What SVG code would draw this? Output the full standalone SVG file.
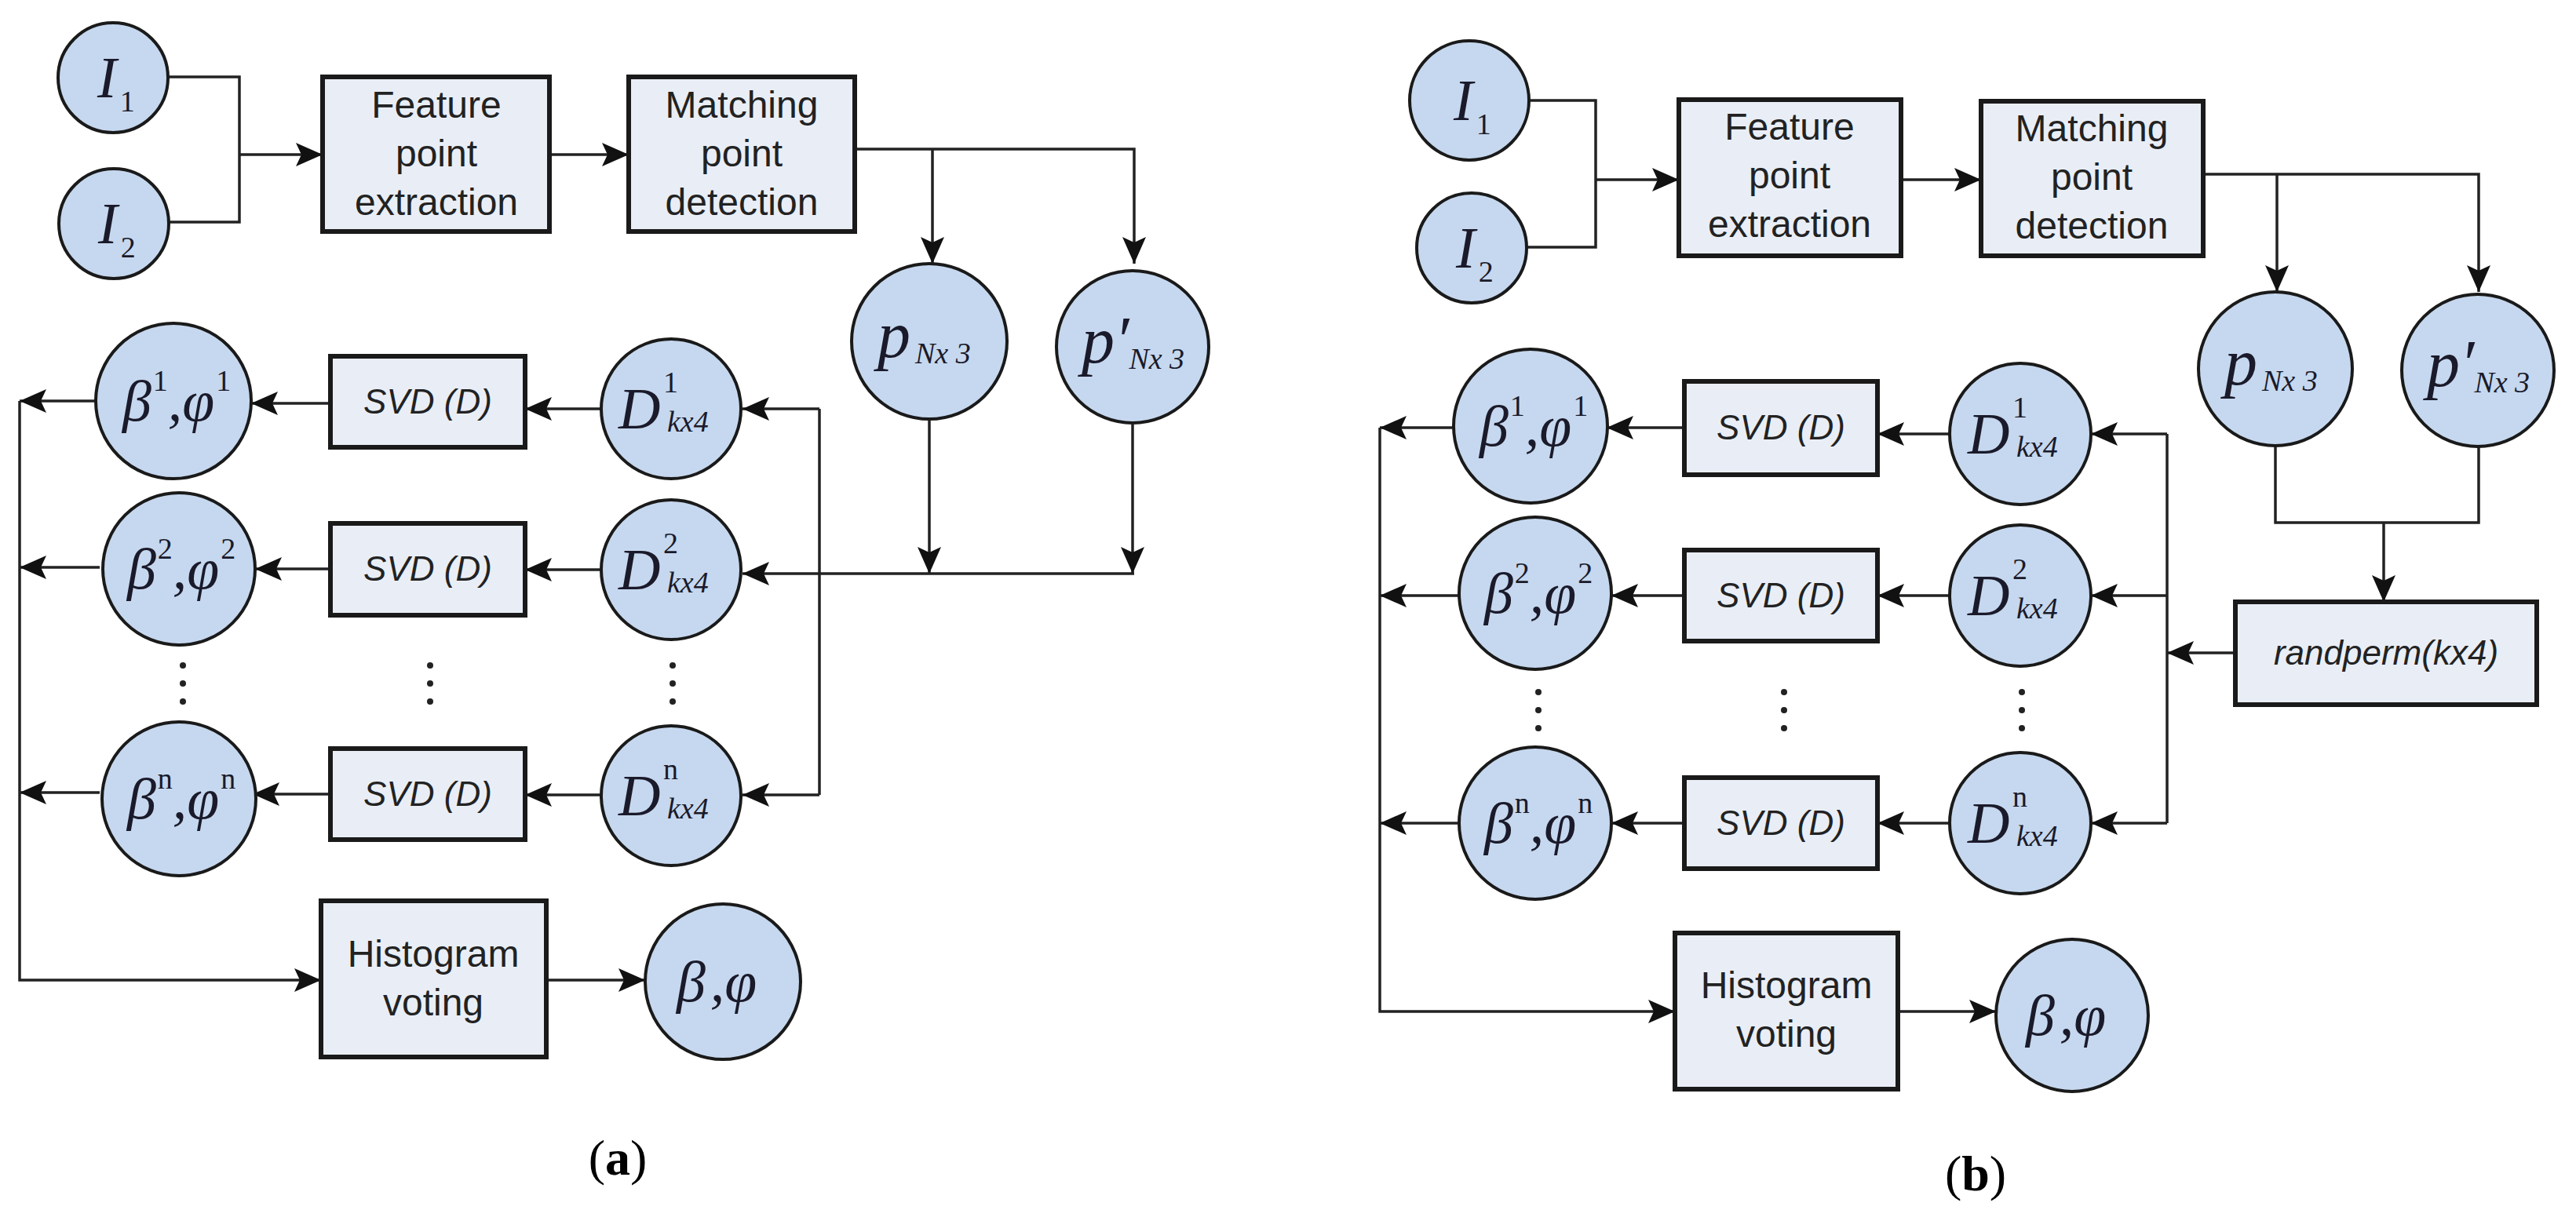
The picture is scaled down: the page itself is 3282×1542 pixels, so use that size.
<svg xmlns="http://www.w3.org/2000/svg" width="3282" height="1542" viewBox="0 0 3282 1542">
<style>
.c{fill:#c6d8ef;stroke:#1a1a1a;stroke-width:4}
.b{fill:#e9eef6;stroke:#1a1a1a;stroke-width:6}
.l{fill:none;stroke:#222;stroke-width:3.5}
.la{fill:none;stroke:#222;stroke-width:3.5;marker-end:url(#ah)}
.t{font-family:"Liberation Sans",Arial,sans-serif;font-size:48px;fill:#222;text-anchor:middle}
.ti{font-family:"Liberation Sans",Arial,sans-serif;font-size:44px;font-style:italic;fill:#222;text-anchor:middle}
.m{font-family:"Liberation Serif","Times New Roman",serif;font-style:italic;font-size:74px;fill:#1a1a2a}
.s{font-family:"Liberation Serif","Times New Roman",serif;font-style:normal;font-size:38px;fill:#1a1a2a}
.si{font-family:"Liberation Serif","Times New Roman",serif;font-style:italic;font-size:38px;fill:#1a1a2a}
.cap{font-family:"Liberation Serif","Times New Roman",serif;font-size:64px;fill:#000;text-anchor:middle}
.dot{fill:#222}
</style>
<defs>
<marker id="ah" markerUnits="userSpaceOnUse" markerWidth="36" markerHeight="30" refX="34" refY="15" orient="auto"><path d="M0,0 L34,15 L0,30 L7,15 z" fill="#111"/></marker>
</defs>

<g id="connectors">
<path class="l" d="M214,98 H305 V283 H214"/>
<path class="la" d="M305,197 H411"/>
<path class="la" d="M700,197 H801"/>
<path class="la" d="M1089,190 H1445 V336"/>
<path class="la" d="M1188,190 V336"/>
<path class="la" d="M1184,536 V731"/>
<path class="la" d="M1443,541 V731"/>
<path class="la" d="M1445,731 H946"/>
<path class="l" d="M1044,521 V1013"/>
<path class="la" d="M1044,521 H946"/>
<path class="la" d="M1044,1013 H946"/>
<path class="la" d="M766,521 H669"/>
<path class="la" d="M766,726 H669"/>
<path class="la" d="M766,1013 H669"/>
<path class="la" d="M421,514 H320"/>
<path class="la" d="M421,725 H325"/>
<path class="la" d="M421,1012 H322"/>
<path class="la" d="M122,511 H25"/>
<path class="la" d="M127,723 H25"/>
<path class="la" d="M127,1010 H25"/>
<path class="la" d="M25,511 V1249 H409"/>
<path class="la" d="M696,1249 H822"/>
<path class="l" d="M1947,128 H2033 V315 H1944"/>
<path class="la" d="M2033,229 H2139"/>
<path class="la" d="M2422,229 H2524"/>
<path class="la" d="M2807,222 H3158 V372"/>
<path class="la" d="M2901,222 V372"/>
<path class="l" d="M2899,568 V666 H3158 V570"/>
<path class="la" d="M3037,666 V767"/>
<path class="la" d="M2848,832 H2761"/>
<path class="l" d="M2761,553 V1049"/>
<path class="la" d="M2761,553 H2664"/>
<path class="la" d="M2761,759 H2664"/>
<path class="la" d="M2761,1049 H2664"/>
<path class="la" d="M2484,553 H2392"/>
<path class="la" d="M2484,759 H2392"/>
<path class="la" d="M2484,1049 H2392"/>
<path class="la" d="M2146,545 H2047"/>
<path class="la" d="M2146,759 H2053"/>
<path class="la" d="M2146,1049 H2053"/>
<path class="la" d="M1853,545 H1758"/>
<path class="la" d="M1859,759 H1758"/>
<path class="la" d="M1859,1049 H1758"/>
<path class="la" d="M1758,545 V1289 H2134"/>
<path class="la" d="M2418,1289 H2543"/>
</g>

<g id="a-I1"><circle class="c" cx="144" cy="99" r="70"/><text class="m" x="124" y="124">I<tspan class="s" dx="4" dy="18">1</tspan></text></g>
<g id="a-I2"><circle class="c" cx="145" cy="285" r="70"/><text class="m" x="125" y="310">I<tspan class="s" dx="4" dy="18">2</tspan></text></g>
<g id="a-feature"><rect class="b" x="411" y="98" width="289" height="197"/><text class="t" x="556" y="150">Feature</text><text class="t" x="556" y="212">point</text><text class="t" x="556" y="274">extraction</text></g>
<g id="a-matching"><rect class="b" x="801" y="98" width="288" height="197"/><text class="t" x="945" y="150">Matching</text><text class="t" x="945" y="212">point</text><text class="t" x="945" y="274">detection</text></g>
<g id="a-p"><circle class="c" cx="1184" cy="435" r="99"/><text class="m" x="1118" y="455" style="font-size:84px">p<tspan class="si" dx="6" dy="8">Nx 3</tspan></text></g>
<g id="a-pp"><circle class="c" cx="1443" cy="442" r="97"/><text class="m" x="1378" y="462" style="font-size:84px">p′<tspan class="si" dx="0" dy="8">Nx 3</tspan></text></g>
<g id="a-b1"><circle class="c" cx="221" cy="511" r="99"/><text class="m" x="156" y="536">β<tspan class="s" dx="2" dy="-38">1</tspan><tspan dy="38">,φ</tspan><tspan class="s" dx="2" dy="-38">1</tspan></text></g>
<g id="a-b2"><circle class="c" cx="228" cy="725" r="97"/><text class="m" x="162" y="750">β<tspan class="s" dx="2" dy="-38">2</tspan><tspan dy="38">,φ</tspan><tspan class="s" dx="2" dy="-38">2</tspan></text></g>
<g id="a-bn"><circle class="c" cx="228" cy="1018" r="98"/><text class="m" x="162" y="1043">β<tspan class="s" dx="2" dy="-38">n</tspan><tspan dy="38">,φ</tspan><tspan class="s" dx="2" dy="-38">n</tspan></text></g>
<g id="a-svd1"><rect class="b" x="421" y="454" width="248" height="116"/><text class="ti" x="545" y="527">SVD (D)</text></g>
<g id="a-svd2"><rect class="b" x="421" y="667" width="248" height="117"/><text class="ti" x="545" y="740">SVD (D)</text></g>
<g id="a-svdn"><rect class="b" x="421" y="954" width="248" height="116"/><text class="ti" x="545" y="1027">SVD (D)</text></g>
<g id="a-D1"><circle class="c" cx="855" cy="521" r="89"/><text class="m" x="788" y="546">D</text><text class="s" x="845" y="500">1</text><text class="si" x="850" y="550">kx4</text></g>
<g id="a-D2"><circle class="c" cx="855" cy="726" r="89"/><text class="m" x="788" y="751">D</text><text class="s" x="845" y="705">2</text><text class="si" x="850" y="755">kx4</text></g>
<g id="a-Dn"><circle class="c" cx="855" cy="1014" r="89"/><text class="m" x="788" y="1039">D</text><text class="s" x="845" y="993">n</text><text class="si" x="850" y="1043">kx4</text></g>
<g id="a-dots"><circle class="dot" cx="233" cy="848" r="4"/><circle class="dot" cx="233" cy="871" r="4"/><circle class="dot" cx="233" cy="894" r="4"/><circle class="dot" cx="548" cy="848" r="4"/><circle class="dot" cx="548" cy="871" r="4"/><circle class="dot" cx="548" cy="894" r="4"/><circle class="dot" cx="857" cy="848" r="4"/><circle class="dot" cx="857" cy="871" r="4"/><circle class="dot" cx="857" cy="894" r="4"/></g>
<g id="a-hist"><rect class="b" x="409" y="1148" width="287" height="199"/><text class="t" x="552" y="1232">Histogram</text><text class="t" x="552" y="1294">voting</text></g>
<g id="a-bp"><circle class="c" cx="921" cy="1251" r="99"/><text class="m" x="862" y="1276">β<tspan dx="6">,φ</tspan></text></g>
<text class="cap" x="787" y="1497">(<tspan font-weight="bold">a</tspan>)</text>

<g id="b-I1"><circle class="c" cx="1872" cy="128" r="76"/><text class="m" x="1852" y="153">I<tspan class="s" dx="4" dy="18">1</tspan></text></g>
<g id="b-I2"><circle class="c" cx="1875" cy="316" r="70"/><text class="m" x="1855" y="341">I<tspan class="s" dx="4" dy="18">2</tspan></text></g>
<g id="b-feature"><rect class="b" x="2139" y="127" width="283" height="199"/><text class="t" x="2280" y="178">Feature</text><text class="t" x="2280" y="240">point</text><text class="t" x="2280" y="302">extraction</text></g>
<g id="b-matching"><rect class="b" x="2524" y="129" width="283" height="197"/><text class="t" x="2665" y="180">Matching</text><text class="t" x="2665" y="242">point</text><text class="t" x="2665" y="304">detection</text></g>
<g id="b-p"><circle class="c" cx="2899" cy="470" r="98"/><text class="m" x="2834" y="490" style="font-size:84px">p<tspan class="si" dx="6" dy="8">Nx 3</tspan></text></g>
<g id="b-pp"><circle class="c" cx="3157" cy="472" r="97"/><text class="m" x="3092" y="492" style="font-size:84px">p′<tspan class="si" dx="0" dy="8">Nx 3</tspan></text></g>
<g id="b-rand"><rect class="b" x="2848" y="767" width="384" height="131"/><text class="ti" x="3040" y="847">randperm(kx4)</text></g>
<g id="b-b1"><circle class="c" cx="1950" cy="543" r="98"/><text class="m" x="1885" y="568">β<tspan class="s" dx="2" dy="-38">1</tspan><tspan dy="38">,φ</tspan><tspan class="s" dx="2" dy="-38">1</tspan></text></g>
<g id="b-b2"><circle class="c" cx="1956" cy="756" r="97"/><text class="m" x="1891" y="781">β<tspan class="s" dx="2" dy="-38">2</tspan><tspan dy="38">,φ</tspan><tspan class="s" dx="2" dy="-38">2</tspan></text></g>
<g id="b-bn"><circle class="c" cx="1956" cy="1049" r="97"/><text class="m" x="1891" y="1074">β<tspan class="s" dx="2" dy="-38">n</tspan><tspan dy="38">,φ</tspan><tspan class="s" dx="2" dy="-38">n</tspan></text></g>
<g id="b-svd1"><rect class="b" x="2146" y="486" width="246" height="119"/><text class="ti" x="2269" y="560">SVD (D)</text></g>
<g id="b-svd2"><rect class="b" x="2146" y="701" width="246" height="116"/><text class="ti" x="2269" y="774">SVD (D)</text></g>
<g id="b-svdn"><rect class="b" x="2146" y="991" width="246" height="116"/><text class="ti" x="2269" y="1064">SVD (D)</text></g>
<g id="b-D1"><circle class="c" cx="2574" cy="553" r="90"/><text class="m" x="2507" y="578">D</text><text class="s" x="2564" y="532">1</text><text class="si" x="2569" y="582">kx4</text></g>
<g id="b-D2"><circle class="c" cx="2574" cy="759" r="90"/><text class="m" x="2507" y="784">D</text><text class="s" x="2564" y="738">2</text><text class="si" x="2569" y="788">kx4</text></g>
<g id="b-Dn"><circle class="c" cx="2574" cy="1049" r="90"/><text class="m" x="2507" y="1074">D</text><text class="s" x="2564" y="1028">n</text><text class="si" x="2569" y="1078">kx4</text></g>
<g id="b-dots"><circle class="dot" cx="1960" cy="882" r="4"/><circle class="dot" cx="1960" cy="905" r="4"/><circle class="dot" cx="1960" cy="928" r="4"/><circle class="dot" cx="2273" cy="882" r="4"/><circle class="dot" cx="2273" cy="905" r="4"/><circle class="dot" cx="2273" cy="928" r="4"/><circle class="dot" cx="2576" cy="882" r="4"/><circle class="dot" cx="2576" cy="905" r="4"/><circle class="dot" cx="2576" cy="928" r="4"/></g>
<g id="b-hist"><rect class="b" x="2134" y="1189" width="284" height="199"/><text class="t" x="2276" y="1272">Histogram</text><text class="t" x="2276" y="1334">voting</text></g>
<g id="b-bp"><circle class="c" cx="2640" cy="1294" r="97"/><text class="m" x="2581" y="1319">β<tspan dx="6">,φ</tspan></text></g>
<text class="cap" x="2517" y="1517">(<tspan font-weight="bold">b</tspan>)</text>
</svg>
